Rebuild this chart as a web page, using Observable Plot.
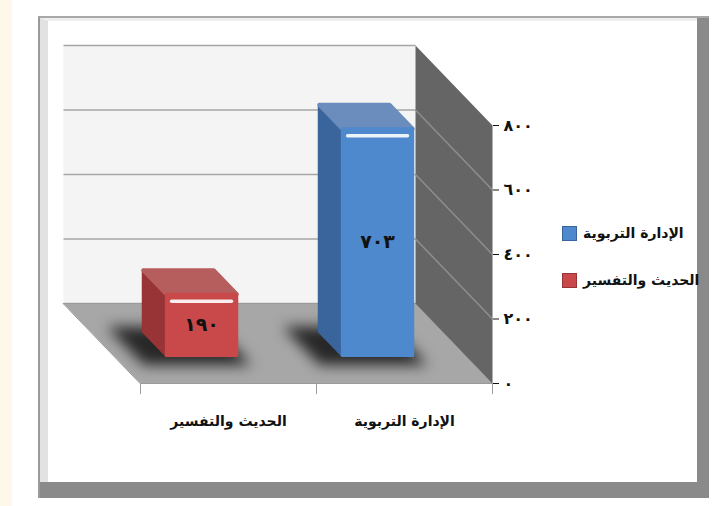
<!DOCTYPE html>
<html><head><meta charset="utf-8">
<script src="https://cdn.jsdelivr.net/npm/d3@7"></script>
<script src="https://cdn.jsdelivr.net/npm/@observablehq/plot@0.6"></script>
<style>
body{margin:0;background:#fff;width:727px;height:506px;position:relative;overflow:hidden;font-family:"DejaVu Sans",sans-serif}
#strip{position:absolute;left:0;top:0;width:12px;height:506px;background:#fdf8e9}
#frame{position:absolute;left:38px;top:16px;width:671px;height:482px;background:#8a8a8a;box-sizing:border-box;border-top:2px solid #a8a8a8;border-left:2px solid #9a9a9a}
#inner{position:absolute;left:0;top:0;width:657px;height:464px;background:#fff;box-sizing:border-box;border-left:8px solid #e2e2e2;border-top:3px solid #efefef}
#chart{position:absolute;left:0;top:0}
#legend{position:absolute;left:562px;top:224px;direction:ltr}
.item{display:flex;align-items:center;height:18px;margin-bottom:29px}
.sw{width:15px;height:15px;margin-right:6px;box-sizing:border-box}
.lbl{font-weight:bold;font-size:14px;direction:rtl;color:#111}
</style></head>
<body>
<div id="strip"></div>
<div id="frame"><div id="inner"></div></div>
<div id="chart"></div>
<div id="legend"></div>
<script>
const categories = ["الحديث والتفسير", "الإدارة التربوية"];
const values = [190, 703];
const frontColors = ["#c9494b", "#4d89cc"];
const sideColors = ["#983436", "#3a649c"];
const topColors = ["#b65d5e", "#6b8dbd"];
const yTicks = [0, 200, 400, 600, 800];
const yTickLabels = ["٠", "٢٠٠", "٤٠٠", "٦٠٠", "٨٠٠"];
const legendOrder = [1, 0];

// oblique projection: depth d in [0,1]
const KX = 0.4375, KY = 248;
const P = (u, v, d) => ({x: u - d * KX, y: v + d * KY});
const poly = (id, pts) => pts.map((p, k) => ({id, k, ...P(...p)}));
const arabicDigits = n => String(n).replace(/\d/g, c => "٠١٢٣٤٥٦٧٨٩"[+c]);

const X0 = 0, X1 = categories.length, YMAX = yTicks[yTicks.length - 1];
const D0 = 0.35, D1 = 0.65, HW = 0.2;

const wall = poly("wall", [[X0,0,1],[X1,0,1],[X1,YMAX,1],[X0,YMAX,1]]);
const floor = poly("floor", [[X0,0,0],[X1,0,0],[X1,0,1],[X0,0,1]]);
const side = poly("side", [[X1,0,0],[X1,0,1],[X1,YMAX,1],[X1,YMAX,0]]);
const backGrid = yTicks.map(v => ({a: P(X0, v, 1), b: P(X1, v, 1)}));
const sideGrid = yTicks.slice(1, -1).map(v => ({a: P(X1, v, 1), b: P(X1, v, 0)}));

const shadows = [], fronts = [], sides = [], tops = [];
categories.forEach((c, i) => {
  const v = values[i], uL = i + 0.5 - HW, uR = i + 0.5 + HW;
  shadows.push(...poly("s" + i, [[uL-0.18,0,D0-0.12],[uR+0.03,0,D0-0.12],[uR+0.03,0,D1+0.06],[uL-0.18,0,D1+0.06]]));
  sides.push(...poly(i, [[uL,0,D0],[uL,0,D1],[uL,v,D1],[uL,v,D0]]));
  tops.push(...poly(i, [[uL,v,D0],[uR,v,D0],[uR,v,D1],[uL,v,D1]]));
  fronts.push(...poly(i, [[uL,0,D0],[uR,0,D0],[uR,v,D0],[uL,v,D0]]));
});
const highlights = categories.map((c, i) => ({a: P(i + 0.5 - HW + 0.03, values[i], D0), b: P(i + 0.5 + HW - 0.03, values[i], D0)}));
const valueLabels = categories.map((c, i) => ({...P(i + 0.5, values[i] / 2, D0), t: arabicDigits(values[i])}));
const catLabels = categories.map((c, i) => ({x: i + 0.5, y: 0, c}));

const seg = {x1: d => d.a.x, y1: d => d.a.y, x2: d => d.b.x, y2: d => d.b.y};
const faceFill = arr => d => arr[d.id];

const chart = Plot.plot({
  width: 727, height: 506,
  marginLeft: 140, marginRight: 235, marginTop: 125, marginBottom: 123,
  style: {background: "transparent", fontFamily: "DejaVu Sans, sans-serif"},
  x: {type: "linear", domain: [X0, X1]},
  y: {type: "linear", domain: [0, YMAX]},
  marks: [
    Plot.line(wall, {x: "x", y: "y", curve: "linear-closed", fill: "#f4f4f4", stroke: "none"}),
    Plot.link(backGrid, {...seg, stroke: "#a6a6a6", strokeWidth: 1.5}),
    Plot.line(floor, {x: "x", y: "y", curve: "linear-closed", fill: "#a7a7a7", stroke: "#9a9a9a", strokeWidth: 1}),
    Plot.line(side, {x: "x", y: "y", curve: "linear-closed", fill: "#656565", stroke: "none"}),
    Plot.link(sideGrid, {...seg, stroke: "#8e8e8e", strokeWidth: 1.5}),
    Plot.line(shadows, {x: "x", y: "y", z: "id", curve: "linear-closed", fill: "#101010", fillOpacity: 0.85, stroke: "none", imageFilter: "blur(7px)"}),
    Plot.line(sides, {x: "x", y: "y", z: "id", curve: "linear-closed", fill: faceFill(sideColors), stroke: faceFill(sideColors), strokeWidth: 3, strokeLinejoin: "round"}),
    Plot.line(tops, {x: "x", y: "y", z: "id", curve: "linear-closed", fill: faceFill(topColors), stroke: faceFill(topColors), strokeWidth: 4, strokeLinejoin: "round"}),
    Plot.line(fronts, {x: "x", y: "y", z: "id", curve: "linear-closed", fill: faceFill(frontColors), stroke: faceFill(frontColors), strokeWidth: 3, strokeLinejoin: "round"}),
    Plot.link(highlights, {...seg, dy: 7, stroke: "#ffffff", strokeWidth: 3.5, strokeOpacity: 0.9, strokeLinecap: "round"}),
    Plot.text(valueLabels, {x: "x", y: "y", text: "t", fontSize: 19, fontWeight: "bold", fill: "#111"}),
    Plot.axisX([0, 1, 2], {anchor: "bottom", tickSize: 11, tickFormat: () => "", label: null, stroke: "#9a9a9a"}),
    Plot.text(catLabels, {x: "x", y: "y", text: "c", dy: 38, fontSize: 14, fontWeight: "bold", fill: "#111"}),
    Plot.axisY(yTicks, {anchor: "right", tickSize: 6, tickPadding: 5, tickFormat: d => yTickLabels[yTicks.indexOf(d)], label: null, fontSize: 16, fontWeight: "bold", color: "#111"})
  ]
});
document.getElementById("chart").append(chart);

const legend = document.getElementById("legend");
legendOrder.forEach(i => {
  const item = document.createElement("div");
  item.className = "item";
  const sw = document.createElement("span");
  sw.className = "sw";
  sw.style.background = frontColors[i];
  sw.style.border = "1px solid " + sideColors[i];
  const lbl = document.createElement("span");
  lbl.className = "lbl";
  lbl.textContent = categories[i];
  item.append(sw, lbl);
  legend.append(item);
});
</script>
</body></html>
